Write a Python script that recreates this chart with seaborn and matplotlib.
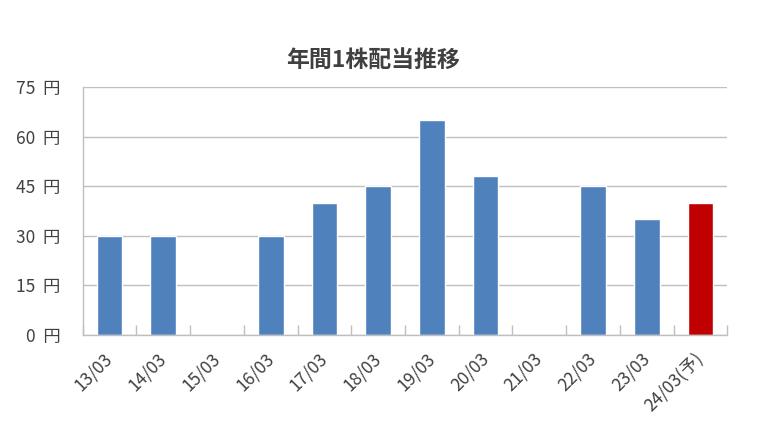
import numpy as np
import pandas as pd
import matplotlib
matplotlib.use('Agg')
import matplotlib.pyplot as plt
import matplotlib.transforms as mtransforms
import seaborn as sns

# data
years = ['13/03', '14/03', '15/03', '16/03', '17/03', '18/03',
         '19/03', '20/03', '21/03', '22/03', '23/03', '24/03(予)']
dividend = [30, 30, 0, 30, 40, 45, 65, 48, 0, 45, 35, 40]
is_forecast = [False] * 11 + [True]
yticks = [0, 15, 30, 45, 60, 75]

df = pd.DataFrame({'year': years, 'dividend': dividend,
                   'kind': ['予想' if f else '実績' for f in is_forecast]})

sns.set_theme(style='white')
plt.rcParams['font.family'] = ['Noto Sans CJK JP', 'DejaVu Sans']

text_col = '#404040'
line_col = '#bfbfbf'

fig, ax = plt.subplots(figsize=(7.75, 4.26), dpi=100)
fig.subplots_adjust(left=0.1067, right=0.9385, top=0.7955, bottom=0.214)

sns.barplot(data=df, x='year', y='dividend', hue='kind',
            palette={'実績': '#4f81bd', '予想': '#c00000'},
            dodge=False, width=0.48, legend=False, ax=ax, saturation=1)

ax.set_xlim(-0.5, len(years) - 0.5)
ax.set_ylim(0, 75)
ax.set_yticks(yticks)
ax.set_yticklabels([f'{v}  円' for v in yticks])
ax.yaxis.grid(True, color=line_col, linewidth=1)
ax.set_axisbelow(True)
ax.set_xlabel('')
ax.set_ylabel('')

for side in ['top', 'right']:
    ax.spines[side].set_visible(False)
for side in ['left', 'bottom']:
    ax.spines[side].set_color(line_col)
    ax.spines[side].set_linewidth(1)

# category boundary ticks (inside)
ax.set_xticks(np.arange(len(years) + 1) - 0.5, minor=True)
ax.tick_params(axis='x', which='minor', direction='in', length=7.5,
               color=line_col, width=1, bottom=True)
ax.tick_params(axis='x', which='major', length=0, pad=10.5,
               labelsize=12.5, labelcolor=text_col)
ax.tick_params(axis='y', length=0, pad=16, labelsize=12.5, labelcolor=text_col)
shift = mtransforms.ScaledTranslation(-6 / 100, 0, fig.dpi_scale_trans)
for lbl in ax.get_xticklabels():
    lbl.set_rotation(45)
    lbl.set_ha('right')
    lbl.set_rotation_mode('anchor')
    lbl.set_transform(lbl.get_transform() + shift)

fig.text(0.481, 0.858, '年間1株配当推移', ha='center', va='center',
         fontsize=16.5, fontweight='bold', color=text_col)

plt.savefig('out.png', dpi=100)
